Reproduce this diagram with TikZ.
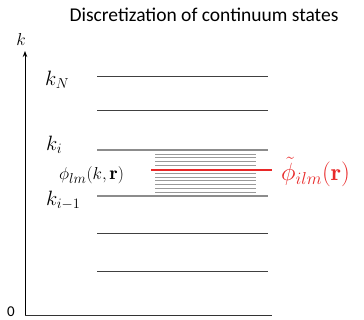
\documentclass[tikz,border=0pt]{standalone}
\usepackage{fontspec}
\setsansfont{Carlito}
\usepackage{amsmath}
\usetikzlibrary{arrows.meta}
\definecolor{redl}{RGB}{232,40,40}
\begin{document}
\begin{tikzpicture}[x=1pt,y=-1pt,
  level/.style={draw=black!75, line width=1pt},
  levelg/.style={draw=black!45, line width=1.6pt},
  fine/.style={draw=black!40, line width=0.8pt},
  klab/.style={inner sep=0pt, anchor=west, font=\fontsize{21}{21}\selectfont}]
\useasboundingbox (0,0) rectangle (364,320);
\node[font=\sffamily\fontsize{19.5}{22}\selectfont] (title) at (204,15) {Discretization of continuum states};
% axes
\coordinate (o) at (25,315);
\coordinate (ytop) at (25,51);
\coordinate (xend) at (272,315);
\draw[line width=0.9pt, -{Stealth[length=6pt,width=4.5pt]}] (o) -- (ytop);
\draw[line width=0.9pt, draw=black!80] (o) -- (xend);
\node[inner sep=0pt, font=\fontsize{18}{18}\selectfont] (k) at (21,40) {$k$};
\node[font=\sffamily\fontsize{15}{15}\selectfont, inner sep=0pt] (zero) at (11,311.5) {0};
% levels
\foreach \y in {77,111,234,272}{
  \draw[level] (97,\y) -- (268,\y);
}
\draw[levelg] (97,150) -- (268,150);
\draw[levelg] (97,196) -- (268,196);
% fine lines
\foreach \i in {0,...,10}{
  \draw[fine] (155,{154+3.82*\i}) -- (256,{154+3.82*\i});
}
\draw[redl, line width=1.5pt] (151,170) -- (272,170);
% labels
\node[klab] (kN) at (45,80) {$k_N$};
\node[klab] (ki) at (46,145) {$k_i$};
\node[klab] (ki1) at (46,200) {$k_{i-1}$};
\node[inner sep=0pt, anchor=west, font=\fontsize{19}{19}\selectfont] (phi) at (59,175) {$\phi_{lm}(k,\mathbf{r})$};
\node[inner sep=0pt, anchor=west, text=redl, font=\fontsize{24}{24}\selectfont] (phit) at (281,172) {$\tilde{\phi}_{ilm}(\mathbf{r})$};
\end{tikzpicture}
\end{document}
